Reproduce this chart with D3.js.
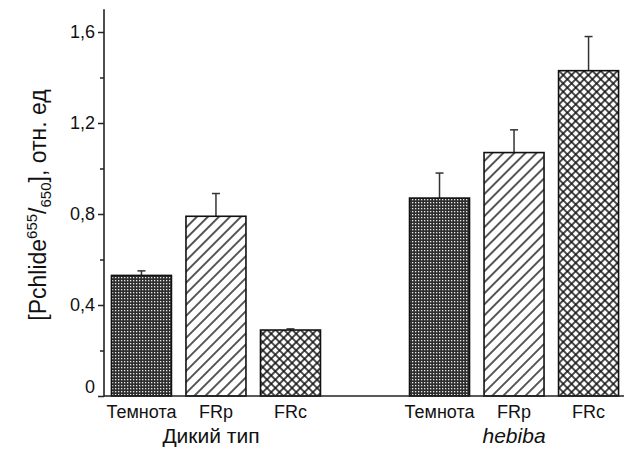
<!DOCTYPE html>
<html>
<head>
<meta charset="utf-8">
<script src="https://cdn.jsdelivr.net/npm/d3@7"></script>
<style>
  html, body { margin: 0; padding: 0; background: #fff; }
  svg { display: block; font-family: "Liberation Sans", Arial, sans-serif; }
</style>
</head>
<body>
<svg id="chart" width="624" height="450"></svg>
<script>
// Conditions within each plant line
const categories = ["Темнота", "FRp", "FRc"];
const groups = ["Дикий тип", "hebiba"];

// Pchlide 655/650 ratio, relative units (mean and upper error)
const wildValues = [0.53, 0.79, 0.29];
const wildErrors = [0.02, 0.10, 0.005];
const hebibaValues = [0.87, 1.07, 1.43];
const hebibaErrors = [0.11, 0.10, 0.15];

const yMajorTicks = [0, 0.4, 0.8, 1.2, 1.6];
const yMinorTicks = [0.2, 0.6, 1.0, 1.4];
const yMax = 1.7;

const svg = d3.select("#chart");

// fill patterns, one per condition
const defs = svg.append("defs");
const pDark = defs.append("pattern").attr("id", "pat-dark")
  .attr("patternUnits", "userSpaceOnUse").attr("width", 3).attr("height", 3);
pDark.append("rect").attr("width", 3).attr("height", 3).attr("fill", "#2e2e2e");
pDark.append("rect").attr("x", 1).attr("y", 1).attr("width", 1.3).attr("height", 1.3).attr("fill", "#e8e8e8");

const pDiag = defs.append("pattern").attr("id", "pat-diag")
  .attr("patternUnits", "userSpaceOnUse").attr("width", 7.8).attr("height", 7.8)
  .attr("patternTransform", "rotate(45)");
pDiag.append("rect").attr("width", 7.8).attr("height", 7.8).attr("fill", "#fff");
pDiag.append("line").attr("x1", 3.9).attr("y1", 0).attr("x2", 3.9).attr("y2", 7.8)
  .attr("stroke", "#111").attr("stroke-width", 1.4);

const s = 5.9;
const pCross = defs.append("pattern").attr("id", "pat-cross")
  .attr("patternUnits", "userSpaceOnUse").attr("width", s).attr("height", s)
  .attr("patternTransform", "rotate(45)");
pCross.append("rect").attr("width", s).attr("height", s).attr("fill", "#fff");
pCross.append("path").attr("d", `M${s/2},0V${s}M0,${s/2}H${s}`)
  .attr("stroke", "#111").attr("stroke-width", 1.5);

const patterns = ["url(#pat-dark)", "url(#pat-diag)", "url(#pat-cross)"];

// slots: three bars per line with an empty slot between the two lines
const slots = ["w0", "w1", "w2", "gap", "h0", "h1", "h2"];
const x = d3.scaleBand().domain(slots).range([104, 626])
  .paddingInner(0.195).paddingOuter(0.1);
const y = d3.scaleLinear().domain([0, yMax]).range([396, 9.25]);

const bars = [];
categories.forEach((c, i) => bars.push({ slot: "w" + i, cat: c, i, v: wildValues[i], e: wildErrors[i] }));
categories.forEach((c, i) => bars.push({ slot: "h" + i, cat: c, i, v: hebibaValues[i], e: hebibaErrors[i] }));

// error bars (upper only)
const eg = svg.append("g").attr("stroke", "#333").attr("stroke-width", 1.5);
bars.forEach(d => {
  const cx = x(d.slot) + x.bandwidth() / 2;
  eg.append("line").attr("x1", cx).attr("x2", cx).attr("y1", y(d.v)).attr("y2", y(d.v + d.e));
  eg.append("line").attr("x1", cx - 4).attr("x2", cx + 4).attr("y1", y(d.v + d.e)).attr("y2", y(d.v + d.e));
});

// bars
svg.append("g").selectAll("rect").data(bars).join("rect")
  .attr("x", d => x(d.slot))
  .attr("y", d => y(d.v))
  .attr("width", x.bandwidth())
  .attr("height", d => y(0) - y(d.v))
  .attr("fill", d => patterns[d.i])
  .attr("stroke", "#111")
  .attr("stroke-width", 1.6);

// y axis
const fmt = d => d === 0 ? "0" : d.toFixed(1).replace(".", ",");
const yAxis = svg.append("g").attr("transform", "translate(104,0)")
  .call(d3.axisLeft(y).tickValues(yMajorTicks).tickSize(6).tickPadding(3).tickFormat(fmt));
yAxis.select(".domain").remove();
yAxis.selectAll(".tick line").attr("stroke", "#222").attr("stroke-width", 1.5);
yAxis.selectAll(".tick text").attr("font-size", 18).attr("fill", "#111")
  .attr("font-family", "'Liberation Sans', Arial, sans-serif")
  .attr("dy", d => d === 0 ? "-0.2em" : "0.32em");

const yMinor = svg.append("g").attr("transform", "translate(104,0)")
  .call(d3.axisLeft(y).tickValues(yMinorTicks).tickSize(4).tickFormat(""));
yMinor.select(".domain").remove();
yMinor.selectAll(".tick line").attr("stroke", "#222").attr("stroke-width", 1.5);

svg.append("line").attr("x1", 104).attr("x2", 104).attr("y1", y(yMax)).attr("y2", y(0) + 0.75)
  .attr("stroke", "#222").attr("stroke-width", 1.6);
svg.append("line").attr("x1", 104).attr("x2", 624).attr("y1", y(0)).attr("y2", y(0))
  .attr("stroke", "#222").attr("stroke-width", 1.6);

// category labels
svg.append("g").selectAll("text").data(bars).join("text")
  .attr("x", d => x(d.slot) + x.bandwidth() / 2)
  .attr("y", 418)
  .attr("text-anchor", "middle")
  .attr("font-size", 18)
  .attr("fill", "#111")
  .text(d => d.cat);

// plant line labels
const groupCenter = k => (x(k + "0") + x(k + "2") + x.bandwidth()) / 2;
svg.append("text").attr("x", groupCenter("w") - 5).attr("y", 443)
  .attr("text-anchor", "middle").attr("font-size", 21).attr("fill", "#111")
  .text(groups[0]);
svg.append("text").attr("x", groupCenter("h")).attr("y", 443)
  .attr("text-anchor", "middle").attr("font-size", 21).attr("font-style", "italic")
  .attr("fill", "#111").text(groups[1]);

// y axis title
const title = svg.append("text")
  .attr("transform", "translate(46,205) rotate(-90)")
  .attr("text-anchor", "middle").attr("font-size", 23).attr("fill", "#111");
title.append("tspan").text("[Pchlide");
title.append("tspan").attr("font-size", 15).attr("dy", -9).text("655");
title.append("tspan").attr("dy", 9).text("/");
title.append("tspan").attr("font-size", 15).attr("dy", 5).text("650");
title.append("tspan").attr("dy", -5).text("], отн. ед");
</script>
</body>
</html>
